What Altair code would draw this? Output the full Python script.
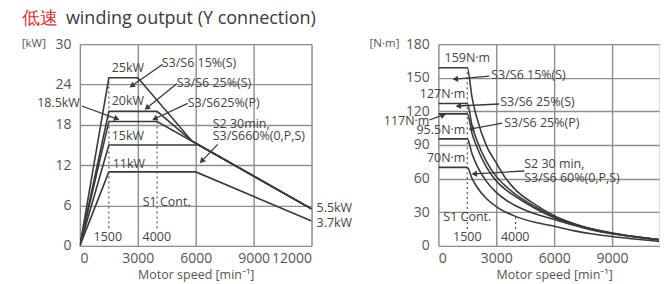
import altair as alt
import pandas as pd

FONT = "Open Sans"
LINE = "#3a3a3a"
GRID = "#8e8e8e"
TXT = "#444444"

# ---------------- data: power chart (kW vs min-1) ----------------
p_curves = ["S3/S6 15%(S)", "S3/S6 25%(S)", "S3/S6 25%(P)", "S2 30min", "S1 Cont."]
p_speed = [
    [0, 1500, 3000, 5800, 12000],
    [0, 1500, 4000, 5800, 12000],
    [0, 1500, 4000, 12000],
    [0, 1500, 6150, 12000],
    [0, 1500, 6000, 12000],
]
p_kw = [
    [0, 25, 25, 15.6, 5.5],
    [0, 20, 20, 15.6, 5.5],
    [0, 18.5, 18.5, 5.5],
    [0, 15, 15, 5.5],
    [0, 11, 11, 3.7],
]

# ---------------- data: torque chart (N·m vs min-1) ----------------
t_speed = [0, 1500, 1750, 2000, 2500, 3000, 3500, 4000, 5000, 6000, 7000, 8000, 9000, 10000, 11000, 12000]
t_nm = [
    [159, 159, 132, 114, 89, 74, 60, 50, 37, 27, 20, 15, 11.5, 8.8, 6.5, 4.4],
    [127, 127, 107, 94, 75, 62, 53, 46, 35, 26, 19.5, 14.7, 11.3, 8.6, 6.4, 4.4],
    [117.8, 117.8, 100, 88, 70, 58, 50, 44, 33.5, 25, 19, 14.5, 11, 8.5, 6.3, 4.4],
    [95.5, 95.5, 82, 71.6, 57.3, 47.7, 40.9, 35.8, 28.6, 23.5, 18.5, 14, 10.8, 8.3, 6.2, 4.4],
    [70, 70, 60, 52.5, 42, 35, 30, 26.3, 21, 17.5, 13.6, 10.6, 8.3, 6.4, 4.7, 2.9],
]

# annotations (speed, value, text)
p_left_txt = [(4241, 27.2, "S3/S6 15%(S)"), (5017, 24.2, "S3/S6 25%(S)"), (5586, 21.2, "S3/S625%(P)"),
              (6879, 18.1, "S2 30min,"), (6879, 16.3, "S3/S660%(0,P,S)"),
              (12258, 5.6, "5.5kW"), (12258, 3.4, "3.7kW")]
p_center_txt = [(2483, 26.4, "25kW"), (2483, 21.5, "20kW"), (2483, 16.3, "15kW"), (2534, 12.2, "11kW"),
                (4500, 6.5, "S1 Cont."), (1448, 1.3, "1500"), (3983, 1.3, "4000")]
p_right_txt = [(0, 21.2, "18.5kW")]
p_arrows = [(4293, 27.0, 2690, 23.8, 144.6), (5017, 24.1, 3465, 20.5, 141.3),
            (5586, 21.2, 3879, 18.9, 154.1), (103, 20.8, 1914, 18.9, 20.4),
            (7138, 15.1, 6310, 12.6, 133.3)]
p_dotted = [(1500, 2.6, 25), (4000, 2.6, 20)]

t_left_txt = [(2741, 152.4, "S3/S6 15%(S)"), (3207, 128.3, "S3/S6 25%(S)"), (3414, 109.6, "S3/S6 25%(P)"),
              (4448, 73.0, "S2 30 min,"), (4448, 60.6, "S3/S6 60%(0,P,S)")]
t_center_txt = [(1500, 168, "159N·m"), (1500, 26, "S1 Cont."), (1500, 8, "1500"), (3983, 8, "4000")]
t_right_txt = [(1400, 135.5, "127N·m"), (-465, 111, "117N·m"), (1400, 103, "95.5N·m"), (1400, 78.5, "70N·m")]
t_arrows = [(2638, 151.5, 879, 148.8, 175), (3155, 126.6, 1034, 124.8, 177.2),
            (3310, 109.6, 1707, 104.3, 169), (-465, 112.3, 259, 116.8, 339.4),
            (4448, 66.8, 1862, 64.2, 176.6)]
t_dotted = [(1500, 15, 159), (4000, 15, 26)]


def lines_df(names, xs, ys):
    rows = []
    for n, xl, yl in zip(names, xs, ys):
        for i, (a, b) in enumerate(zip(xl, yl)):
            rows.append({"curve": n, "speed": a, "val": b, "o": i})
    return pd.DataFrame(rows)


def txt_df(items):
    return pd.DataFrame([{"speed": a, "val": b, "label": c} for a, b, c in items])


def panel(ldf, interp, xdom, xvals, ydom, yvals, ltxt, ctxt, rtxt, arrows, dotted, unit, unit_x, width, extra=None):
    xs = alt.Scale(domain=xdom, nice=False, zero=False)
    ys = alt.Scale(domain=ydom, nice=False)
    xaxis = alt.Axis(values=xvals, format="d", labelOverlap=False, grid=True, gridColor=GRID, gridWidth=1.4,
                     domain=False, ticks=False,
                     labelFont=FONT, labelFontSize=14, labelColor="#555", labelPadding=6,
                     title="Motor speed [min⁻¹]", titleFont=FONT, titleFontSize=12.5, titleFontWeight="normal",
                     titleColor="#555", titlePadding=3, titleX=116)
    yaxis = alt.Axis(values=yvals, format="d", labelOverlap=False, grid=True, gridColor=GRID, gridWidth=1.4,
                     domain=False, ticks=False, tickCount=len(yvals),
                     labelFont=FONT, labelFontSize=14, labelColor="#555", labelPadding=9, title=None)

    def X(f):
        return alt.X(f, scale=xs, axis=xaxis, title="Motor speed [min⁻¹]")

    def Y(f):
        return alt.Y(f, scale=ys, axis=yaxis, title=None)

    lines = alt.Chart(ldf).mark_line(color=LINE, strokeWidth=1.6, interpolate=interp, clip=True).encode(
        x=X("speed:Q"), y=Y("val:Q"), detail="curve:N", order="o:Q")

    ddf = pd.DataFrame([{"speed": a, "val": b, "val2": c} for a, b, c in dotted])
    dots = alt.Chart(ddf).mark_rule(color="#555", strokeWidth=1.2, strokeDash=[2, 3]).encode(
        x=X("speed:Q"), y=Y("val:Q"), y2="val2:Q")

    adf = pd.DataFrame([{"speed": a, "val": b, "speed2": c, "val2": d, "ang": e} for a, b, c, d, e in arrows])
    arr = alt.Chart(adf).mark_rule(color=LINE, strokeWidth=1.3).encode(
        x=X("speed:Q"), y=Y("val:Q"), x2="speed2:Q", y2="val2:Q")
    heads = alt.Chart(adf).mark_point(shape="triangle-right", filled=True, color=LINE, size=40, opacity=1).encode(
        x=X("speed2:Q"), y=Y("val2:Q"), angle=alt.Angle("ang:Q", scale=None))

    def tl(items, align):
        return alt.Chart(txt_df(items)).mark_text(align=align, baseline="middle", font=FONT, fontSize=12.5,
                                                    color=TXT).encode(
            x=X("speed:Q"), y=Y("val:Q"), text="label:N")

    unit_t = alt.Chart(pd.DataFrame({"label": [unit]})).mark_text(
        align="right", baseline="middle", font=FONT, fontSize=11.5, color="#555").encode(
        x=alt.value(unit_x), y=alt.datum(ydom[1]), text="label:N")

    layers = [lines, dots, arr, heads, tl(ltxt, "left"), tl(ctxt, "center"), tl(rtxt, "right"), unit_t]
    if extra:
        layers += extra
    return alt.layer(*layers).properties(width=width, height=202)


title1 = alt.Chart(pd.DataFrame({"label": ["低速"]})).mark_text(
    align="left", baseline="middle", font=FONT, fontSize=18, color="#e0303a").encode(
    x=alt.value(-58), y=alt.value(-25), text="label:N")
title2 = alt.Chart(pd.DataFrame({"label": ["winding output (Y connection)"]})).mark_text(
    align="left", baseline="middle", font=FONT, fontSize=18, color="#3a3a3a").encode(
    x=alt.value(-14), y=alt.value(-25), text="label:N")

left = panel(lines_df(p_curves, p_speed, p_kw), "linear", [0, 12000], [0, 3000, 6000, 9000, 12000],
             [0, 30], [0, 6, 12, 18, 24, 30], p_left_txt, p_center_txt, p_right_txt, p_arrows, p_dotted,
             "[kW]", -34, 232, extra=[title1, title2])

right = panel(lines_df(p_curves, [t_speed] * 5, t_nm), "monotone", [0, 11431], [0, 3000, 6000, 9000],
              [0, 180], [0, 30, 60, 90, 120, 150, 180], t_left_txt, t_center_txt, t_right_txt, t_arrows,
              t_dotted, "[N·m]", -39, 221)

chart = alt.hconcat(left, right, spacing=127, bounds="flush").properties(
    padding={"left": 13, "top": 1, "right": 0, "bottom": 0}
).configure_view(stroke=None).configure(background="white")

chart.save("out.html", embed_options={"renderer": "svg", "actions": False})
